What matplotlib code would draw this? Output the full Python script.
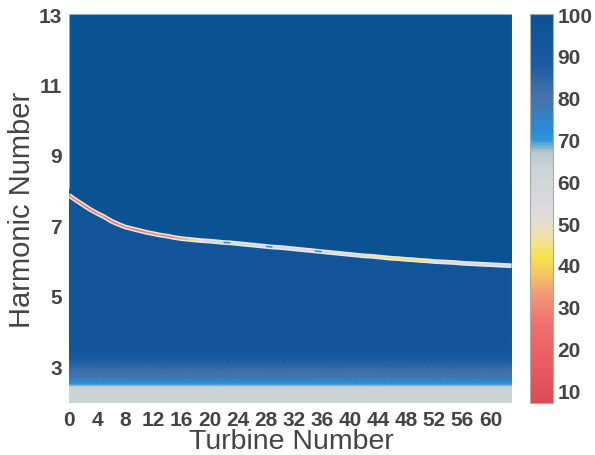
import numpy as np
import matplotlib
matplotlib.use('Agg')
from matplotlib import pyplot as plt
from matplotlib.colors import LinearSegmentedColormap, Normalize
from matplotlib.collections import LineCollection

# efficiency (%) colour scale, value -> colour
scale_vals = [7, 15, 25, 33, 38, 42, 47, 52, 63, 67, 70, 73, 80, 88, 100]
scale_cols = ['#dc4a55', '#e85a62', '#ee6e6e', '#f09a78', '#f5c860', '#f6e24e',
              '#efe0b0', '#dcdcdc', '#cdd4d6', '#b8c8d0', '#2c96dc', '#2c88d0',
              '#4674aa', '#1c5aa3', '#0b5292']

turbines = np.arange(64)
# harmonic number where the region switches to full efficiency
boundary = [7.85, 7.71, 7.58, 7.45, 7.34, 7.24, 7.12, 7.03, 6.95, 6.90, 6.85, 6.80,
            6.76, 6.72, 6.69, 6.65, 6.62, 6.60, 6.58, 6.56, 6.55, 6.53, 6.51, 6.50,
            6.48, 6.46, 6.44, 6.42, 6.40, 6.38, 6.37, 6.35, 6.33, 6.31, 6.29, 6.27,
            6.25, 6.23, 6.21, 6.19, 6.17, 6.15, 6.13, 6.12, 6.10, 6.08, 6.06, 6.05,
            6.03, 6.02, 6.00, 5.99, 5.97, 5.96, 5.95, 5.94, 5.92, 5.91, 5.90, 5.89,
            5.88, 5.87, 5.86, 5.85]
# values along the switching edge
edge_vals = [28, 27, 26, 28, 30, 27, 26, 29, 30, 28, 27, 30, 32, 30, 29, 33, 35, 40,
             50, 55, 58, 56, 72, 55, 57, 60, 58, 55, 70, 56, 57, 58, 55, 56, 57, 72,
             56, 55, 54, 56, 55, 52, 50, 48, 45, 44, 43, 42, 42, 43, 44, 48, 52, 55,
             56, 56, 55, 56, 57, 56, 55, 56, 57, 56]
# vertical profile of the lower region
harm_rows = [1.95, 2.40, 2.44, 2.47, 2.52, 2.60, 2.70, 2.90, 3.20, 3.45, 4.00, 8.0]
row_vals = [62, 63, 66, 69, 71, 74, 79, 82, 90, 95, 96, 96]

cmap = LinearSegmentedColormap.from_list(
    'eff', [((v - 7) / 93, c) for v, c in zip(scale_vals, scale_cols)])
norm = Normalize(vmin=7, vmax=100)

plt.rcParams['font.family'] = ['Liberation Sans', 'DejaVu Sans']
txt = '#444444'

fig = plt.figure(figsize=(5.95, 4.56), dpi=100)
ax = fig.add_axes([0.116, 0.114, 0.746, 0.853])

X, Y = np.meshgrid(turbines, harm_rows)
C = np.repeat(np.array(row_vals, dtype=float)[:, None], len(turbines), axis=1)
ax.pcolormesh(X, Y, C, cmap=cmap, norm=norm, shading='gouraud', rasterized=True)

ax.fill_between(turbines, boundary, 13, color=cmap(norm(100)), lw=0, zorder=2)

# edge of the full-efficiency region
ax.plot(turbines, boundary, color='#e8e8e8', lw=3.4, zorder=3, solid_capstyle='butt')
pts = np.column_stack([turbines, boundary]).reshape(-1, 1, 2)
segs = np.concatenate([pts[:-1], pts[1:]], axis=1)
lc = LineCollection(segs, cmap=cmap, norm=norm, linewidths=1.2, zorder=4)
lc.set_array(np.array(edge_vals[:-1], dtype=float))
ax.add_collection(lc)

ax.set_xlim(0, 63.2)
ax.set_ylim(1.95, 13)
ax.set_xticks(np.arange(0, 61, 4))
ax.set_yticks([3, 5, 7, 9, 11, 13])
ax.tick_params(length=0, labelsize=15, colors=txt, pad=5)
for lab in ax.get_xticklabels() + ax.get_yticklabels():
    lab.set_fontweight('bold')
for s in ax.spines.values():
    s.set_visible(False)
ax.set_xlabel('Turbine Number', fontsize=20.5, color=txt, labelpad=-1)
ax.set_ylabel('Harmonic Number', fontsize=21, color=txt, labelpad=2)

cax = fig.add_axes([0.891, 0.114, 0.039, 0.853])
cb = fig.colorbar(plt.cm.ScalarMappable(norm=norm, cmap=cmap), cax=cax)
cb.set_ticks(np.arange(10, 101, 10))
cb.outline.set_edgecolor('#aaaaaa')
cb.outline.set_linewidth(0.8)
cax.tick_params(length=0, labelsize=15, colors=txt, pad=3)
for lab in cax.get_yticklabels():
    lab.set_fontweight('bold')

fig.savefig('out.png', dpi=100)
